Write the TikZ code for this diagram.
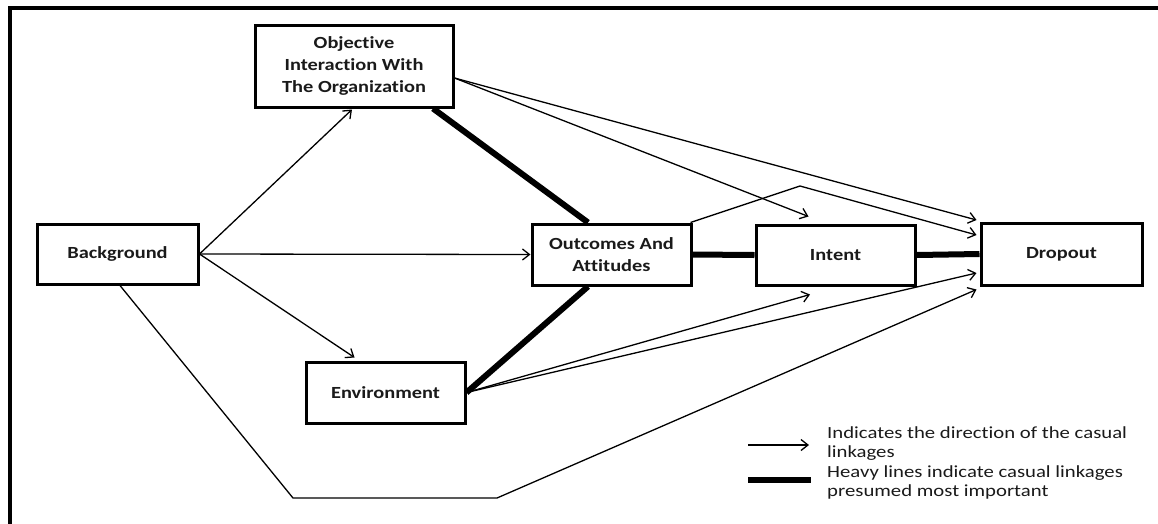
\documentclass[tikz,border=0pt]{standalone}
\usepackage{fontspec}
\setmainfont{Carlito}[FakeStretch=1.2,Ligatures=NoCommon]
\newfontfamily\legfont{Carlito}[FakeStretch=1.22,Ligatures=NoCommon]
\usetikzlibrary{arrows.meta,calc}
\definecolor{ink}{HTML}{1A1A1A}
\begin{document}
\begin{tikzpicture}[x=1pt,y=-1pt,
  box/.style={draw=black,line width=3pt,rectangle,inner sep=0pt,align=center,
    font=\fontsize{17}{22}\selectfont\bfseries,text=ink},
  thin/.style={line width=1.3pt,-{Straight Barb[length=7pt,width=11pt,line width=1.3pt]}},
  plain/.style={line width=1.3pt},
  heavy/.style={line width=6pt},
  legend/.style={anchor=north west,align=left,inner sep=0pt,text=ink,
    font=\legfont\fontsize{17}{19.5}\selectfont}]
\useasboundingbox (0,0) rectangle (1158,523);
% frame (top and left visible)
\draw[line width=3.5pt] (10,530) -- (10,8) -- (1165,8);
% boxes
\node[box,minimum width=198pt,minimum height=82pt] (obj) at (354,66) {Objective\\Interaction With\\The Organization};
\node[box,minimum width=161pt,minimum height=60pt] (bg) at (117.5,254) {Background};
\node[box,minimum width=159pt,minimum height=61pt] (oa) at (611.5,254.5) {Outcomes And\\Attitudes};
\node[box,minimum width=159pt,minimum height=60pt] (int) at (835.5,255) {Intent};
\node[box,minimum width=161pt,minimum height=62pt] (drop) at (1061.5,254) {Dropout};
\node[box,minimum width=159pt,minimum height=61pt] (env) at (385.5,392.5) {Environment};
% heavy links
\draw[heavy] ([xshift=79pt]obj.south) -- ([xshift=-23.5pt]oa.north);
\draw[heavy] ([xshift=-23.5pt]oa.south) -- (env.east);
\draw[heavy] (oa.east) -- (int.west);
\draw[heavy] (int.east) -- (drop.west);
% thin arrows
\draw[thin] (bg.east) -- ([xshift=-2pt,yshift=-1pt]obj.south);
\draw[thin] (bg.east) -- (oa.west);
\draw[thin] (bg.east) -- ([xshift=-31pt,yshift=3pt]env.north);
\coordinate (c1) at (293,498);
\coordinate (c2) at (497,498);
\draw[thin] ([xshift=2.5pt]bg.south) -- (c1) -- (c2) -- ([xshift=-3pt,yshift=-3pt]drop.south west);
\draw[thin] ([yshift=-12pt]obj.east) -- ([xshift=-27pt,yshift=7pt]int.north);
\draw[thin] ([yshift=-12pt]obj.east) -- ([xshift=-3pt,yshift=34pt]drop.west);
\coordinate (pk) at (800,186);
\draw[thin] ([xshift=-2pt]oa.north east) -- (pk) -- ([xshift=-3pt,yshift=19pt]drop.west);
\draw[thin] (env.east) -- ([xshift=-25.5pt,yshift=-8pt]int.south);
\draw[thin] (env.east) -- ([xshift=-3pt,yshift=-19pt]drop.west);
% legend
\coordinate (la1) at (748,445);
\coordinate (la2) at (809,445);
\coordinate (lb1) at (748,480);
\coordinate (lb2) at (811,480);
\draw[thin] (la1) -- (la2);
\draw[heavy] (lb1) -- (lb2);
\node[legend] (t1) at (827,426) {Indicates the direction of the casual\\linkages};
\node[legend] (t2) at (827,465) {Heavy lines indicate casual linkages\\presumed most important};
\end{tikzpicture}
\end{document}
